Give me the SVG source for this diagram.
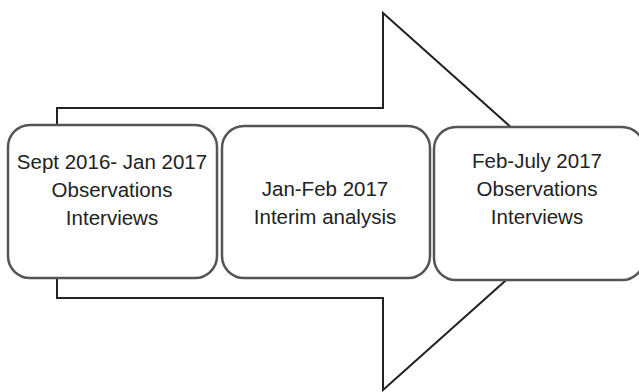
<svg xmlns="http://www.w3.org/2000/svg" width="639" height="392" viewBox="0 0 639 392">
<style>
.arrow{fill:#fff;stroke:#222;stroke-width:2;stroke-linejoin:miter}
.box{fill:#fff;stroke:#555;stroke-width:2.5}
.t{font-family:"Liberation Sans",Arial,sans-serif;font-size:20.5px;fill:#222;text-anchor:middle}
</style>
<rect width="639" height="392" fill="#fff"/>
<g id="connectors">
<polygon class="arrow" points="57,108 383,108 383,13 594,201.5 383,390 383,298 57,298"/>
</g>
<g id="node1">
<rect class="box" x="8" y="125" width="209" height="153" rx="22"/>
<text class="t" x="112" y="169">Sept 2016- Jan 2017</text>
<text class="t" x="112" y="197">Observations</text>
<text class="t" x="112" y="225">Interviews</text>
</g>
<g id="node2">
<rect class="box" x="222" y="126" width="208" height="152" rx="22"/>
<text class="t" x="325" y="196">Jan-Feb 2017</text>
<text class="t" x="325" y="224">Interim analysis</text>
</g>
<g id="node3">
<rect class="box" x="434" y="127" width="210" height="153" rx="22"/>
<text class="t" x="537" y="168">Feb-July 2017</text>
<text class="t" x="537" y="196">Observations</text>
<text class="t" x="537" y="224">Interviews</text>
</g>
</svg>
